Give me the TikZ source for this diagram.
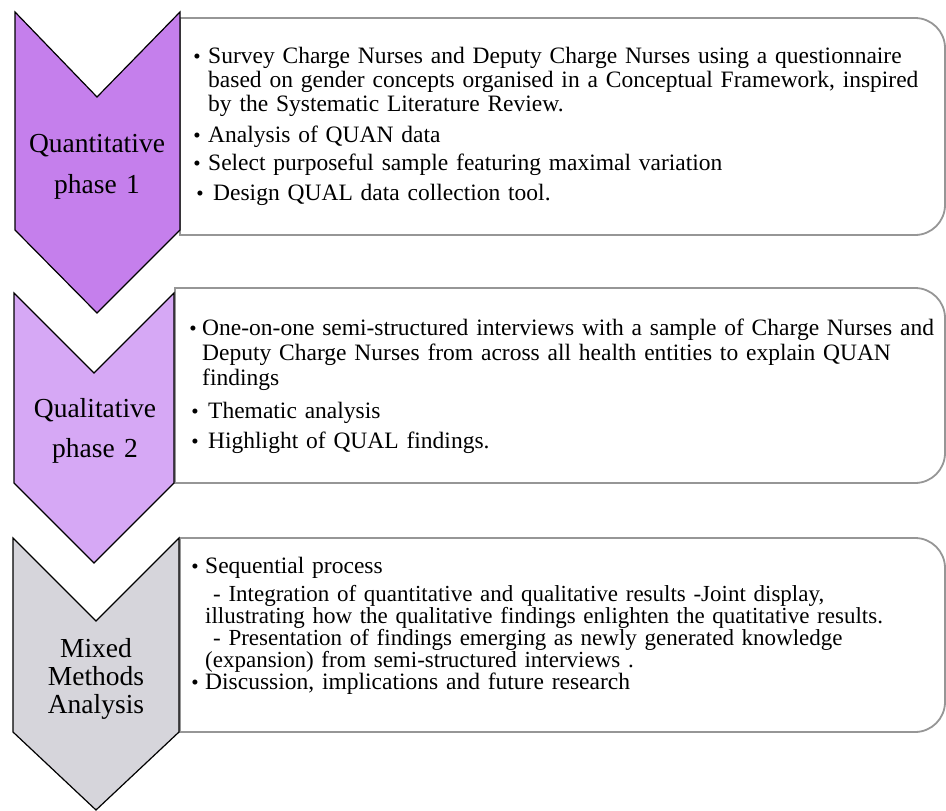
\documentclass[tikz,border=0pt]{standalone}
\usepackage{fontspec}
\setmainfont{Liberation Serif}
\usepackage{tikz}
\usepackage{xcolor}

\definecolor{quanfill}{RGB}{197,127,236}
\definecolor{qualfill}{RGB}{214,168,245}
\definecolor{mixfill}{RGB}{214,213,219}
\definecolor{boxgray}{RGB}{150,150,150}

\begin{document}
\begin{tikzpicture}[x=1pt,y=-1pt,
  chev/.style={draw=black,line width=1.2pt,line join=miter},
  listbox/.style={draw=boxgray,line width=1.8pt,fill=white},
  phaselabel/.style={anchor=base,text width=170pt,align=center,inner sep=0pt},
  itemtext/.style={anchor=base west,text width=760pt,align=left,inner sep=0pt,
    font=\fontsize{23.5}{24.5}\selectfont},
  dot/.style={anchor=base,inner sep=0pt,font=\fontsize{21}{21}\selectfont}]
\useasboundingbox (0,0) rectangle (946,811);
% boxes on the right, rounded on the right side only
\draw[listbox] (180,18) -- (915,18) arc[start angle=-90,end angle=0,radius=30]
  -- (945,205) arc[start angle=0,end angle=90,radius=30] -- (180,235) -- cycle;
\draw[listbox] (175,288) -- (915,288) arc[start angle=-90,end angle=0,radius=30]
  -- (945,453) arc[start angle=0,end angle=90,radius=30] -- (175,483) -- cycle;
\draw[listbox] (180,538) -- (915,538) arc[start angle=-90,end angle=0,radius=30]
  -- (945,702) arc[start angle=0,end angle=90,radius=30] -- (180,732) -- cycle;
% chevrons
\filldraw[chev,fill=quanfill] (15,12) -- (97,97) -- (180,12) -- (180,230) -- (97,313) -- (15,230) -- cycle;
\filldraw[chev,fill=qualfill] (14,293) -- (94,373) -- (174,293) -- (174,483) -- (94,563) -- (14,483) -- cycle;
\filldraw[chev,fill=mixfill] (13,538) -- (96,621) -- (179,538) -- (179,732) -- (96,810) -- (13,732) -- cycle;
% phase labels
\node[phaselabel,font=\fontsize{27.5}{41}\selectfont] (quan) at (97,152) {Quantitative\\phase 1};
\node[phaselabel,font=\fontsize{27.5}{40}\selectfont] (qual) at (95,417) {Qualitative\\phase 2};
\node[phaselabel,font=\fontsize{27.5}{28}\selectfont] (mix) at (96,657) {Mixed\\Methods\\Analysis};
% phase 1 list
\node[dot] (d1a) at (197,63) {•};
\node[itemtext] (survey) at (208,63) {Survey Charge Nurses and Deputy Charge Nurses using a questionnaire\\based on gender concepts organised in a Conceptual Framework, inspired\\by the Systematic Literature Review.};
\node[dot] (d1b) at (197,142) {•};
\node[itemtext] (analysis) at (208,142) {Analysis of QUAN data};
\node[dot] (d1c) at (197,170) {•};
\node[itemtext] (select) at (208,170) {Select purposeful sample featuring maximal variation};
\node[dot] (d1d) at (200,200) {•};
\node[itemtext] (design) at (213,200) {Design QUAL data collection tool.};
% phase 2 list
\node[dot] (d2a) at (193,335) {•};
\node[itemtext,font=\fontsize{23.5}{25}\selectfont] (interviews) at (202,335) {One-on-one semi-structured interviews with a sample of Charge Nurses and\\Deputy Charge Nurses from across all health entities to explain QUAN\\findings};
\node[dot] (d2b) at (195,418) {•};
\node[itemtext] (thematic) at (208,418) {Thematic analysis};
\node[dot] (d2c) at (195,448) {•};
\node[itemtext] (highlight) at (208,448) {Highlight of QUAL findings.};
% mixed methods list
\node[dot] (d3a) at (195,573) {•};
\node[itemtext] (sequential) at (205,573) {Sequential process};
\node[itemtext,font=\fontsize{23}{17.5}\selectfont] (integration) at (205,601) {\hspace*{8pt}- Integration of quantitative and qualitative results -Joint display,\\illustrating how the qualitative findings enlighten the quatitative results.};
\node[itemtext,font=\fontsize{23}{17.5}\selectfont] (presentation) at (205,645) {\hspace*{8pt}- Presentation of findings emerging as newly generated knowledge\\(expansion) from semi-structured interviews .};
\node[dot] (d3b) at (195,689) {•};
\node[itemtext] (discussion) at (205,689) {Discussion, implications and future research};
\end{tikzpicture}
\end{document}
